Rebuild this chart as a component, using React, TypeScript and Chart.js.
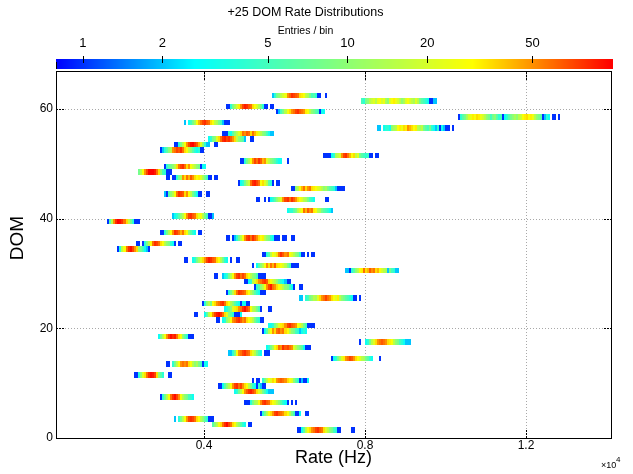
import React, { useEffect, useRef } from 'react';
import { Chart, registerables } from 'chart.js';

Chart.register(...registerables);

// ---------------- data ----------------
const BIN_WIDTH_HZ = 50;
const xTickValues = [4000, 8000, 12000];
const yTickValues = [0, 20, 40, 60];
const colorTickValues = [1, 2, 5, 10, 20, 50];

const domIndex = [
  62, 61, 60, 59, 58, 57, 56, 55, 54, 53, 52, 51, 50, 49, 48, 47, 46, 45, 44, 43,
  41, 40, 39, 37, 36, 35, 34, 33, 32, 31, 30, 29, 28, 27, 26, 25, 24, 23, 22, 21,
  20, 19, 18, 17, 16, 15, 14, 13, 11, 10, 9, 8, 7, 6, 4, 3, 2, 1,
];

const startRate = [
  5700, 7900, 4550, 5800, 10300, 3500, 8300, 4450, 4100, 3250, 2900, 6950, 4900, 3000, 2350, 3050, 4850, 6150, 3000, 5300,
  6050, 3200, 1600, 2900, 4550, 2300, 1850, 5450, 3500, 5200, 7500, 4250, 5000, 5250, 4550, 6350, 3950, 4500, 3750, 4300,
  5600, 5450, 2850, 7850, 5550, 4600, 7150, 3050, 2250, 5200, 4350, 4750, 2900, 5000, 5400, 3250, 4200, 6300,
];

const binCounts = [
  [2,4,8,10,15,20,25,50,62,80,72,65,58,35,32,28,16,13,8,5,6,4,1,1,0,0,1],
  [5,4,8,10,15,18,22,15,25,28,20,25,13,10,22,28,32,25,20,15,10,13,22,28,20,16,13,22,15,8,6,5,4,3,1,1,2,2],
  [1,1,4,8,13,20,32,50,72,88,80,65,58,35,28,20,13,8,4,1,1,0,1,1],
  [1,2,5,8,15,28,35,50,58,72,80,65,58,50,32,28,15,10,8,6,5,1,3,3],
  [1,4,6,8,13,20,25,32,28,35,32,25,20,15,10,8,5,8,10,6,4,5,1,3,4,6,8,10,13,10,15,18,28,32,35,28,32,25,15,10,8,6,1,2,4,3,0,1,1,0,1],
  [2,0,3,5,8,13,28,42,58,72,80,65,58,35,28,16,13,8,5,2,1,1,1],
  [2,2,0,3,4,4,3,10,13,15,28,32,25,35,32,50,42,35,28,32,15,13,16,8,6,5,8,4,3,2,4,1,3,2,1,1,0,1],
  [1,1,1,4,3,6,10,15,22,35,58,50,65,58,35,58,42,32,22,15,10,8,5,3,2,2],
  [3,4,8,10,22,35,58,80,88,72,80,65,50,35,16,10,8,6,2,0,0,1,1],
  [1,1,4,8,15,28,50,72,95,100,80,65,42,22,10,4,2,2,0,0,1,1],
  [1,2,4,6,10,15,50,58,72,65,80,58,35,28,15,10,6,4,3,4,1,1],
  [1,1,1,1,3,4,13,16,20,50,72,80,58,42,28,35,16,22,8,6,5,4,5,1,1,0,1,1],
  [1,1,4,8,13,28,50,72,58,80,65,42,50,22,15,10,8,6,4,3,3,0,0,1],
  [1,4,6,8,10,15,35,58,72,80,58,35,50,28,20,15,10,8,1,3,3],
  [8,15,28,50,72,100,100,100,88,58,35,10,5,4,1,1,1],
  [1,1,0,1,1,4,8,13,50,35,58,42,65,50,35,28,32,22,13,8,5,1,1,0,1,1],
  [1,3,4,8,13,18,58,80,88,72,58,28,35,22,15,6,4,1,0,1,1],
  [1,1,10,15,28,42,58,35,50,58,35,32,28,22,20,15,10,13,8,6,5,4,2,1,1,1,1],
  [2,1,6,10,15,28,58,80,72,65,35,50,28,16,8,5,3,1,1,0,0,1,1],
  [1,1,0,0,1,0,1,3,4,6,10,15,22,50,72,80,58,80,65,50,35,28,22,15,13,8,5,4,3,0,0,0,0,0,1,1],
  [3,4,4,6,8,15,22,28,58,42,65,50,58,32,28,15,13,8,6,5,4,3,2],
  [2,3,4,6,10,15,28,50,72,80,65,58,35,22,28,15,8,5,1,1,2],
  [1,6,15,50,80,100,95,80,58,35,16,8,4,1,1,1],
  [1,1,4,8,15,28,50,80,72,58,42,58,35,28,10,6,4,3,0,1,1],
  [1,1,0,1,2,4,8,15,28,50,72,80,58,80,65,50,35,28,32,15,10,8,4,3,1,1,1,0,1,1,0,0,1,1],
  [1,1,0,1,4,8,15,28,58,80,72,58,35,28,15,10,8,4,3,1,0,1,1],
  [1,4,15,28,58,80,95,72,50,35,10,8,5,3,2,1],
  [1,1,4,6,15,28,22,35,58,80,65,50,58,28,22,15,10,8,4,1,1,0,1,0,1,1],
  [1,1,0,0,3,4,8,13,22,35,50,72,88,80,65,58,35,28,15,8,4,3,0,1,0,0,1,1],
  [1,0,3,6,10,15,28,50,35,58,42,65,35,32,28,22,15,8,5,1,1,1,1],
  [2,2,1,4,6,10,15,28,32,58,35,42,65,50,58,35,42,28,20,15,13,2,8,5,4,2,2],
  [1,1,0,0,2,3,4,8,15,28,50,72,80,58,72,58,35,28,15,10,8,5,1,1,1,1],
  [1,1,3,4,15,22,35,50,58,72,80,65,35,28,20,15,10,6,4,3,2,1,1],
  [1,4,6,10,15,28,50,72,88,58,50,35,28,22,15,10,8,5,3,1,0,0,1,1],
  [1,4,8,15,35,58,80,72,65,58,35,28,15,10,6,4,3,1,1,1],
  [2,2,0,4,5,8,10,15,13,22,35,50,58,72,58,50,35,28,22,32,15,10,8,6,5,4,3,1,1,0,1],
  [1,4,10,15,8,28,35,50,58,72,80,58,35,28,15,10,6,4,3,1,3,3,1,1],
  [3,4,6,10,22,32,35,50,58,80,95,72,58,28,15,13,8,5,1,0,0,0,1,1],
  [1,1,0,0,0,3,6,15,28,50,72,88,95,80,58,35,22,10,6,4,1,1,1,3],
  [1,1,0,3,4,10,15,28,50,58,72,80,65,50,58,35,28,22,15,8,5,4,1,1],
  [3,3,4,8,13,22,32,35,50,72,80,65,58,50,28,22,15,8,5,1,1,1,1],
  [1,3,6,15,28,50,35,58,65,50,58,35,28,15,10,8,5,4,2,3,4,3],
  [3,8,15,28,50,72,95,80,88,58,35,28,10,6,4,1,1,1],
  [1,0,0,3,4,8,15,22,35,50,58,65,58,50,35,32,28,15,10,8,5,4,3,2,2,2],
  [3,4,8,13,28,35,58,50,80,65,72,58,50,22,15,10,8,6,3,1,1,1],
  [2,2,4,8,28,50,58,72,80,65,58,35,22,15,8,5,3,0,1,1,1],
  [1,3,4,8,13,22,32,50,58,72,65,50,35,28,22,15,13,8,6,4,3,0,0,0,1],
  [1,1,0,4,8,15,28,50,58,50,58,35,28,15,10,13,8,5,1,3,3],
  [1,1,4,10,22,35,58,80,95,88,72,35,10,6,4,0,0,1,1],
  [1,0,1,1,0,4,8,15,28,22,35,28,50,58,65,58,50,35,28,22,10,6,4,1,2,1,1,3],
  [1,1,3,6,10,15,28,50,72,80,58,72,50,35,28,15,8,4,3,1,4,2,1,1],
  [3,4,8,15,28,50,65,80,88,72,58,35,22,15,8,5,3,2,2,2],
  [1,4,8,15,28,58,80,95,72,50,28,15,10,8,5,4,3],
  [1,1,1,4,8,13,15,28,50,72,80,65,58,35,28,22,15,10,6,4,3,1,0,1,0,1],
  [1,4,8,15,28,35,50,72,80,65,58,50,35,28,15,8,5,1,1,3,0,0,1,1],
  [2,0,4,8,15,28,50,72,80,72,58,35,28,15,10,6,4,1,1,1],
  [6,10,15,28,35,58,80,95,72,58,35,28,15,10,6,4,3,0,1,1],
  [1,1,3,6,15,28,35,50,58,72,80,65,58,35,22,15,10,8,5,4,1,1,0,0,0,0,0,1,1],
];

// ---------------- helpers ----------------
const FONT = "'Liberation Sans', Arial, Helvetica, sans-serif";
const paletteStops: [number, number, number, number][] = [
  [0.0, 0, 0, 255],
  [0.25, 0, 255, 255],
  [0.5, 128, 255, 128],
  [0.75, 255, 255, 0],
  [1.0, 255, 0, 0],
];
function paletteColor(t: number): string {
  const u = Math.max(0, Math.min(1, t));
  for (let i = 1; i < paletteStops.length; i++) {
    const a = paletteStops[i - 1];
    const b = paletteStops[i];
    if (u <= b[0]) {
      const f = (u - a[0]) / (b[0] - a[0]);
      const r = Math.round(a[1] + (b[1] - a[1]) * f);
      const g = Math.round(a[2] + (b[2] - a[2]) * f);
      const bl = Math.round(a[3] + (b[3] - a[3]) * f);
      return `rgb(${r},${g},${bl})`;
    }
  }
  return 'rgb(255,0,0)';
}

const App = () => {
  const ref = useRef<HTMLCanvasElement>(null);

  useEffect(() => {
    document.body.style.margin = '0';
    const canvas = ref.current;
    if (!canvas) return;

    const colorFor = (cb: any, c: number) => {
      const px = cb.getPixelForValue(c);
      return paletteColor((px - cb.left) / (cb.right - cb.left));
    };

    const heatmapPlugin = {
      id: 'heatmap',
      beforeDatasetsDraw(chart: any) {
        const { ctx, chartArea: a, scales } = chart;
        const xs = scales.x;
        const ys = scales.y;
        const cb = scales.cb;
        ctx.save();
        // dotted grid
        ctx.strokeStyle = '#a8a8a8';
        ctx.lineWidth = 1;
        ctx.setLineDash([1, 2]);
        xTickValues.forEach((v) => {
          const px = Math.round(xs.getPixelForValue(v)) + 0.5;
          ctx.beginPath();
          ctx.moveTo(px, a.top);
          ctx.lineTo(px, a.bottom);
          ctx.stroke();
        });
        yTickValues.forEach((v) => {
          if (v === 0) return;
          const py = Math.round(ys.getPixelForValue(v)) + 0.5;
          ctx.beginPath();
          ctx.moveTo(a.left, py);
          ctx.lineTo(a.right, py);
          ctx.stroke();
        });
        ctx.setLineDash([]);
        // cells
        ctx.beginPath();
        ctx.rect(a.left, a.top, a.right - a.left, a.bottom - a.top);
        ctx.clip();
        domIndex.forEach((dom, r) => {
          const y0 = Math.round(ys.getPixelForValue(dom + 1));
          const y1 = Math.round(ys.getPixelForValue(dom));
          binCounts[r].forEach((c, k) => {
            if (c <= 0) return;
            const lo = startRate[r] + k * BIN_WIDTH_HZ;
            const x0 = Math.round(xs.getPixelForValue(lo));
            const x1 = Math.round(xs.getPixelForValue(lo + BIN_WIDTH_HZ));
            ctx.fillStyle = colorFor(cb, c);
            ctx.fillRect(x0, y0, Math.max(1, x1 - x0), y1 - y0);
          });
        });
        ctx.restore();
      },
      afterDraw(chart: any) {
        const { ctx, chartArea: a, scales } = chart;
        const xs = scales.x;
        const ys = scales.y;
        const cb = scales.cb;
        ctx.save();
        // frame
        ctx.strokeStyle = '#000';
        ctx.lineWidth = 1;
        ctx.strokeRect(a.left + 0.5, a.top + 0.5, a.right - a.left, a.bottom - a.top);
        // inner dashed ticks
        ctx.setLineDash([2, 1]);
        const TL = 9;
        xTickValues.forEach((v) => {
          const px = Math.round(xs.getPixelForValue(v)) + 0.5;
          ctx.beginPath();
          ctx.moveTo(px, a.bottom);
          ctx.lineTo(px, a.bottom - TL);
          ctx.moveTo(px, a.top + 1);
          ctx.lineTo(px, a.top + 1 + TL);
          ctx.stroke();
        });
        yTickValues.forEach((v) => {
          const py = Math.round(ys.getPixelForValue(v)) + 0.5;
          ctx.beginPath();
          ctx.moveTo(a.left, py);
          ctx.lineTo(a.left + TL, py);
          ctx.moveTo(a.right + 1, py);
          ctx.lineTo(a.right + 1 - TL, py);
          ctx.stroke();
        });
        ctx.setLineDash([]);
        // colour bar
        const barTop = 59;
        const barH = 10;
        for (let px = Math.floor(cb.left); px < Math.ceil(cb.right) + 2; px++) {
          const v = cb.getValueForPixel(px + 0.5);
          ctx.fillStyle = colorFor(cb, v);
          ctx.fillRect(px, barTop, 1, barH);
        }
        ctx.fillStyle = '#000';
        colorTickValues.forEach((v) => {
          const px = Math.round(cb.getPixelForValue(v));
          ctx.fillRect(px, 56, 1, 7);
        });
        ctx.fillRect(Math.round(cb.left), 62, 1, 7);
        // y axis title
        ctx.fillStyle = '#000';
        ctx.save();
        ctx.translate(18, 238);
        ctx.rotate(-Math.PI / 2);
        ctx.textAlign = 'center';
        ctx.textBaseline = 'middle';
        ctx.font = `19px ${FONT}`;
        ctx.fillText('DOM', 0, 0);
        ctx.restore();
        // exponent
        ctx.textBaseline = 'alphabetic';
        ctx.textAlign = 'left';
        ctx.font = `9px ${FONT}`;
        ctx.fillText('\u00d710', 601, 468);
        ctx.font = `8px ${FONT}`;
        ctx.fillText('4', 616, 462);
        ctx.restore();
      },
    };

    const chart = new Chart(canvas, {
      type: 'scatter',
      data: { datasets: [{ data: [] }] },
      options: {
        responsive: false,
        animation: false,
        events: [],
        layout: { padding: { left: 0, right: 22, top: 0, bottom: 0 } },
        plugins: {
          legend: { display: false },
          tooltip: { enabled: false },
          title: {
            display: true,
            text: '+25 DOM Rate Distributions',
            color: '#000',
            font: { family: FONT, size: 12.5, weight: 'normal', lineHeight: '15px' },
            padding: { top: 5, bottom: 0 },
          },
          subtitle: {
            display: true,
            text: 'Entries / bin',
            color: '#000',
            font: { family: FONT, size: 10.5, weight: 'normal', lineHeight: '12px' },
            padding: { top: 5, bottom: 1 },
          },
        },
        scales: {
          x: {
            type: 'linear',
            position: 'bottom',
            min: 323,
            max: 14112,
            afterBuildTicks: (s: any) => {
              s.ticks = xTickValues.map((v) => ({ value: v }));
            },
            afterFit: (s: any) => {
              s.height = 36;
            },
            grid: { display: false, drawTicks: false },
            border: { display: false },
            ticks: {
              color: '#000',
              font: { family: FONT, size: 12 },
              padding: 0,
              maxRotation: 0,
              autoSkip: false,
              callback: (v: any) => String(Number(v) / 10000),
            },
            title: {
              display: true,
              text: 'Rate (Hz)',
              color: '#000',
              font: { family: FONT, size: 18 },
              padding: { top: 0, bottom: 5 },
            },
          },
          y: {
            type: 'linear',
            position: 'left',
            min: 0,
            max: 66.93,
            afterBuildTicks: (s: any) => {
              s.ticks = yTickValues.map((v) => ({ value: v }));
            },
            afterFit: (s: any) => {
              s.width = 56;
            },
            grid: { display: false, drawTicks: false },
            border: { display: false },
            ticks: {
              color: '#000',
              font: { family: FONT, size: 12 },
              padding: 3,
              autoSkip: false,
              callback: (v: any) => String(v),
            },
          },
          cb: {
            type: 'logarithmic',
            position: 'top',
            min: 0.792,
            max: 99,
            afterBuildTicks: (s: any) => {
              s.ticks = colorTickValues.map((v) => ({ value: v }));
            },
            afterFit: (s: any) => {
              s.height = 33;
            },
            grid: { display: false, drawTicks: false },
            border: { display: false },
            ticks: {
              color: '#000',
              font: { family: FONT, size: 13 },
              padding: 20,
              maxRotation: 0,
              autoSkip: false,
              callback: (v: any) => String(v),
            },
          },
        },
      } as any,
      plugins: [heatmapPlugin],
    });

    return () => chart.destroy();
  }, []);

  return <canvas ref={ref} width={633} height={474} style={{ display: 'block' }} />;
};

export default App;
